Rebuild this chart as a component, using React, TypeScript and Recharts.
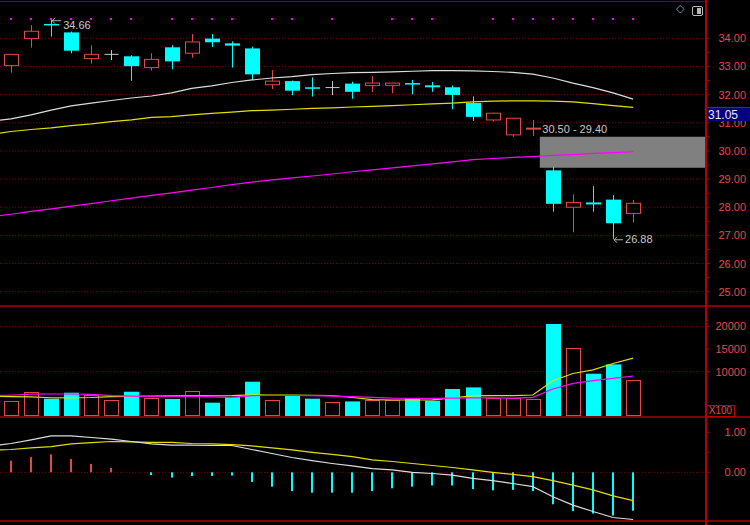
import React from "react";
import {
  ComposedChart,
  Bar,
  Line,
  XAxis,
  YAxis,
  CartesianGrid,
  ReferenceArea,
  ReferenceDot,
  Scatter,
} from "recharts";

// ---------- data ----------
const opens = [33.03, 33.99, 34.51, 34.21, 33.28, 33.43, 33.36, 32.96, 33.68, 33.47, 33.99, 33.82, 33.64, 32.35, 32.48, 32.26, 32.25, 32.39, 32.32, 32.33, 32.41, 32.33, 32.26, 31.7, 31.1, 30.57, 30.78, 29.31, 28.0, 28.17, 28.27, 27.78];
const highs = [33.43, 34.47, 34.66, 34.24, 33.75, 33.58, 33.4, 33.47, 33.75, 34.15, 34.15, 33.89, 33.7, 32.87, 32.5, 32.61, 32.48, 32.46, 32.66, 32.42, 32.52, 32.45, 32.32, 31.94, 31.36, 31.16, 31.1, 29.44, 28.46, 28.75, 28.43, 28.26];
const lows = [32.78, 33.67, 34.06, 33.47, 33.1, 33.23, 32.49, 32.86, 32.9, 33.31, 33.69, 32.96, 32.52, 32.2, 31.98, 31.93, 31.98, 31.85, 32.09, 32.05, 32.01, 32.1, 31.48, 31.06, 31.04, 30.5, 30.53, 27.84, 27.11, 27.84, 26.88, 27.46];
const closes = [33.43, 34.25, 34.49, 33.56, 33.43, 33.43, 33.01, 33.25, 33.18, 33.87, 33.86, 33.74, 32.72, 32.48, 32.14, 32.24, 32.25, 32.1, 32.41, 32.41, 32.37, 32.26, 31.99, 31.21, 31.34, 31.16, 30.81, 28.12, 28.17, 28.1, 27.43, 28.14];

// moving averages (first value = the day before the visible window)
const priceMaWhite = [31.06, 31.14, 31.28, 31.45, 31.6, 31.7, 31.79, 31.88, 31.95, 32.06, 32.22, 32.31, 32.43, 32.52, 32.59, 32.64, 32.71, 32.75, 32.78, 32.79, 32.81, 32.83, 32.85, 32.85, 32.84, 32.82, 32.79, 32.73, 32.59, 32.41, 32.25, 32.06, 31.84];
const priceMaYellow = [30.58, 30.69, 30.76, 30.82, 30.9, 30.96, 31.04, 31.1, 31.19, 31.22, 31.28, 31.33, 31.38, 31.43, 31.45, 31.48, 31.51, 31.53, 31.56, 31.58, 31.61, 31.64, 31.67, 31.7, 31.74, 31.77, 31.78, 31.78, 31.77, 31.74, 31.68, 31.61, 31.55];
const priceMaMagenta = [27.66, 27.75, 27.85, 27.94, 28.04, 28.13, 28.23, 28.32, 28.42, 28.51, 28.61, 28.7, 28.8, 28.89, 28.97, 29.04, 29.11, 29.18, 29.26, 29.33, 29.4, 29.47, 29.54, 29.61, 29.69, 29.73, 29.77, 29.8, 29.84, 29.87, 29.91, 29.94, 29.97];

const volumes = [3600, 5580, 4040, 5360, 4770, 3820, 5580, 4190, 3970, 5740, 3160, 4410, 7790, 3750, 4640, 4040, 3380, 3440, 3660, 3750, 4040, 3600, 6180, 6530, 4110, 4190, 3970, 20530, 15140, 9560, 11610, 8080];
const volMaYellow = [4550, 4500, 4450, 4250, 4200, 4300, 4500, 4550, 4600, 4650, 4700, 4650, 4700, 4900, 4850, 4850, 4800, 4750, 4300, 3850, 3750, 3750, 3800, 4200, 4650, 4700, 4700, 4850, 8000, 9600, 10400, 11800, 13000];
const volMaMagenta = [4770, 4800, 5050, 5080, 5080, 5000, 4700, 4600, 4550, 4550, 4600, 4450, 4350, 4700, 4750, 4750, 4700, 4600, 4500, 4350, 4150, 4100, 4100, 4150, 4200, 4200, 4150, 4330, 6180, 7420, 8010, 8520, 9050];

const macdHist = [0.29, 0.38, 0.45, 0.33, 0.21, 0.11, 0, -0.07, -0.13, -0.09, -0.09, -0.08, -0.24, -0.36, -0.47, -0.51, -0.51, -0.51, -0.47, -0.4, -0.36, -0.33, -0.33, -0.42, -0.45, -0.44, -0.47, -0.8, -0.97, -1.03, -1.08, -0.96];
const macdDif = [0.66, 0.72, 0.81, 0.91, 0.91, 0.87, 0.83, 0.77, 0.71, 0.68, 0.68, 0.67, 0.67, 0.57, 0.47, 0.37, 0.29, 0.22, 0.16, 0.09, 0.06, 0.0, -0.03, -0.07, -0.15, -0.21, -0.28, -0.36, -0.61, -0.82, -0.98, -1.13, -1.18];
const macdDea = [0.55, 0.57, 0.61, 0.64, 0.71, 0.74, 0.77, 0.76, 0.75, 0.75, 0.72, 0.71, 0.69, 0.66, 0.61, 0.56, 0.5, 0.45, 0.39, 0.31, 0.27, 0.22, 0.17, 0.12, 0.06, 0.0, -0.05, -0.11, -0.21, -0.32, -0.44, -0.59, -0.71];

const signalDays = [1, 2, 3, 4, 5, 6, 7, 9, 10, 11, 12, 14, 15, 17, 20, 21, 22, 25, 26, 27, 28, 29, 30, 31, 32];
const signalLevel = 34.7;

const priceTicks = [25, 26, 27, 28, 29, 30, 31, 32, 33, 34];
const priceMinorTicks = [25.5, 26.5, 27.5, 28.5, 29.5, 30.5, 31.5, 32.5, 33.5];
const volTicks = [10000, 15000, 20000];
const volGrid = [10000, 20000];
const macdTicks = [0, 1];
const macdMinorTicks = [0.5];

const zoneLow = 29.4;
const zoneHigh = 30.5;
const zoneStart = 26.35;
const lastPrice = "31.05";
const highMark = { day: 3, value: 34.66 };
const lowMark = { day: 31, value: 26.88 };

// ---------- scales / styles ----------
const xDomain: [number, number] = [-0.548, 34.63];
const priceDomain: [number, number] = [24.527, 35.325];
const volDomain: [number, number] = [0, 24500];
const macdDomain: [number, number] = [-1.2425, 1.3575];

const RED = "#e04848";
const CYAN = "#00ffff";
const GRAY = "#c8c8c8";
const GRID = "#800000";
const AXIS = "#b00000";
const LABEL = "#e04a4a";
const FONT = "'Liberation Sans', Arial, sans-serif";

const priceRows = priceMaWhite.map((w, k) => {
  const i = k - 1;
  const row: any = { i, maW: w, maY: priceMaYellow[k], maM: priceMaMagenta[k] };
  if (i >= 0) {
    row.o = opens[i];
    row.h = highs[i];
    row.l = lows[i];
    row.c = closes[i];
    row.range = [lows[i], highs[i]];
  }
  return row;
});

const volRows = volMaYellow.map((v, k) => {
  const i = k - 1;
  const row: any = { i, vmaY: v, vmaM: volMaMagenta[k] };
  if (i >= 0) {
    row.vol = volumes[i];
    row.up = closes[i] >= opens[i];
  }
  return row;
});

const macdRows = macdDif.map((d, k) => {
  const i = k - 1;
  const row: any = { i, dif: d, dea: macdDea[k] };
  if (i >= 0) row.hist = macdHist[i];
  return row;
});

const sigRows = signalDays.map((d) => ({ i: d - 1, sig: signalLevel }));

// ---------- shapes ----------
const CandleShape = (props: any) => {
  const { x, y, width, height } = props;
  const p = props.payload ?? props;
  if (p == null || p.h == null || x == null || !isFinite(y)) return null;
  const top = Math.min(y, y + height);
  const bot = Math.max(y, y + height);
  const span = p.h - p.l;
  const toY = (v: number) => top + ((p.h - v) / span) * (bot - top);
  const cx = Math.floor(x + width / 2) + 0.5;
  const yo = toY(p.o);
  const yc = toY(p.c);
  const bt = Math.min(yo, yc);
  const bb = Math.max(yo, yc);
  if (p.c === p.o) {
    return (
      <g>
        <line x1={cx} x2={cx} y1={top} y2={bot} stroke={GRAY} />
        <line x1={cx - 7} x2={cx + 7} y1={yo} y2={yo} stroke={GRAY} />
      </g>
    );
  }
  if (p.c > p.o) {
    return (
      <g>
        <line x1={cx} x2={cx} y1={top} y2={bt} stroke={RED} />
        <line x1={cx} x2={cx} y1={bb} y2={bot} stroke={RED} />
        <rect x={cx - 7} y={bt} width={14} height={Math.max(bb - bt, 1)} fill="#000" stroke={RED} />
      </g>
    );
  }
  return (
    <g>
      <line x1={cx} x2={cx} y1={top} y2={bot} stroke={CYAN} />
      <rect x={cx - 7.5} y={bt} width={15} height={Math.max(bb - bt, 1.5)} fill={CYAN} />
    </g>
  );
};

const VolShape = (props: any) => {
  const { x, y, width, height } = props;
  const p = props.payload ?? props;
  if (p == null || p.vol == null || x == null || !isFinite(y)) return null;
  const top = Math.min(y, y + height);
  const bot = Math.max(y, y + height);
  const cx = Math.floor(x + width / 2) + 0.5;
  if (p.up) {
    const t = Math.round(top) + 0.5;
    return <rect x={cx - 7} y={t} width={14} height={bot - t - 1.5} fill="#000" stroke={RED} />;
  }
  return <rect x={cx - 7.5} y={top} width={15} height={bot - top - 1} fill={CYAN} />;
};

const HistShape = (props: any) => {
  const { x, y, width, height } = props;
  const p = props.payload ?? props;
  if (p == null || p.hist == null || x == null || !isFinite(y)) return null;
  const top = Math.min(y, y + height);
  const bot = Math.max(y, y + height);
  const cx = Math.round(x + width / 2);
  return <rect x={cx - 1} y={top} width={2} height={bot - top} fill={p.hist >= 0 ? RED : CYAN} />;
};

const SigDot = (props: any) => {
  const { cx, cy } = props;
  if (cx == null || cy == null) return null;
  return <rect x={Math.round(cx) - 1} y={Math.round(cy) - 1} width={2} height={2} fill="#ff00ff" />;
};

const makeTick = (majors: number[], fmt: (v: number) => string) => (props: any) => {
  const { x, y, payload } = props;
  const v = payload.value;
  const major = majors.some((m) => Math.abs(m - v) < 1e-9);
  return (
    <g>
      <line x1={x - 4} x2={x} y1={y} y2={y} stroke={AXIS} />
      {major && (
        <text x={x + 36} y={y} dy={4} textAnchor="end" fill={LABEL} fontSize={11} fontFamily={FONT}>
          {fmt(v)}
        </text>
      )}
    </g>
  );
};

const PointNote = (props: any) => {
  const { viewBox, text, dy } = props;
  if (!viewBox) return null;
  const x = viewBox.x;
  const y = viewBox.y;
  return (
    <g>
      <line x1={x + 1} y1={y + 1} x2={x + 10} y2={y + 1} stroke="#b0b0b0" />
      <path d={`M${x + 4},${y - 2} L${x + 1},${y + 1} L${x + 4},${y + 4}`} stroke="#b0b0b0" fill="none" />
      <text x={x + 12} y={y + dy} fill="#c8c8c8" fontSize={11} fontFamily={FONT}>
        {text}
      </text>
    </g>
  );
};

const ZoneLabel = (props: any) => {
  const { viewBox } = props;
  if (!viewBox) return null;
  return (
    <text x={viewBox.x + 2.5} y={viewBox.y - 3.5} fill="#c8c8c8" fontSize={11} fontFamily={FONT}>
      {`${zoneHigh.toFixed(2)} - ${zoneLow.toFixed(2)}`}
    </text>
  );
};

const margin = { top: 1, right: 0, bottom: 1, left: 0 };

export default function App() {
  return (
    <div
      style={{
        position: "fixed",
        left: 0,
        top: 0,
        width: 750,
        height: 525,
        background: "#000",
        overflow: "hidden",
        fontFamily: FONT,
      }}
    >
      {/* price panel */}
      <div style={{ position: "absolute", left: 0, top: 0 }}>
        <ComposedChart width={750} height={306} data={priceRows} margin={margin}>
          <XAxis type="number" dataKey="i" domain={xDomain} allowDataOverflow hide />
          <YAxis
            orientation="right"
            width={44}
            domain={priceDomain}
            allowDataOverflow
            ticks={[...priceTicks, ...priceMinorTicks]}
            interval={0}
            axisLine={false}
            tickLine={false}
            tickSize={4}
            tickMargin={0}
            tick={makeTick(priceTicks, (v) => v.toFixed(2))}
          />
          <CartesianGrid vertical={false} horizontalValues={priceTicks} stroke={GRID} strokeDasharray="1 2" />
          <ReferenceArea
            x1={zoneStart}
            x2={xDomain[1]}
            y1={zoneLow}
            y2={zoneHigh}
            fill="#808080"
            fillOpacity={1}
            stroke="none"
            ifOverflow="visible"
            label={<ZoneLabel />}
          />
          <Line dataKey="maW" stroke="#dcdcdc" strokeWidth={1.2} dot={false} isAnimationActive={false} />
          <Line dataKey="maY" stroke="#e0e000" strokeWidth={1.2} dot={false} isAnimationActive={false} />
          <Line dataKey="maM" stroke="#ff00ff" strokeWidth={1.2} dot={false} isAnimationActive={false} />
          <Bar dataKey="range" barSize={15} shape={CandleShape} isAnimationActive={false} />
          <Scatter data={sigRows} dataKey="sig" shape={SigDot} isAnimationActive={false} />
          <ReferenceDot
            x={highMark.day - 1}
            y={highMark.value}
            r={0}
            fill="none"
            stroke="none"
            label={<PointNote text={highMark.value.toFixed(2)} dy={9} />}
          />
          <ReferenceDot
            x={lowMark.day - 1}
            y={lowMark.value}
            r={0}
            fill="none"
            stroke="none"
            label={<PointNote text={lowMark.value.toFixed(2)} dy={4.5} />}
          />
        </ComposedChart>
      </div>

      {/* volume panel */}
      <div style={{ position: "absolute", left: 0, top: 305 }}>
        <ComposedChart width={750} height={113} data={volRows} margin={margin}>
          <XAxis type="number" dataKey="i" domain={xDomain} allowDataOverflow hide />
          <YAxis
            orientation="right"
            width={44}
            domain={volDomain}
            allowDataOverflow
            ticks={volTicks}
            interval={0}
            axisLine={false}
            tickLine={false}
            tickSize={4}
            tickMargin={0}
            tick={makeTick(volTicks, (v) => String(v))}
          />
          <CartesianGrid vertical={false} horizontalValues={volGrid} stroke={GRID} strokeDasharray="1 2" />
          <Bar dataKey="vol" barSize={15} shape={VolShape} isAnimationActive={false} />
          <Line dataKey="vmaY" stroke="#e0e000" strokeWidth={1.2} dot={false} isAnimationActive={false} />
          <Line dataKey="vmaM" stroke="#ff00ff" strokeWidth={1.2} dot={false} isAnimationActive={false} />
        </ComposedChart>
      </div>

      {/* MACD panel */}
      <div style={{ position: "absolute", left: 0, top: 417 }}>
        <ComposedChart width={750} height={106} data={macdRows} margin={margin}>
          <XAxis type="number" dataKey="i" domain={xDomain} allowDataOverflow hide />
          <YAxis
            orientation="right"
            width={44}
            domain={macdDomain}
            allowDataOverflow
            ticks={[...macdTicks, ...macdMinorTicks]}
            interval={0}
            axisLine={false}
            tickLine={false}
            tickSize={4}
            tickMargin={0}
            tick={makeTick(macdTicks, (v) => v.toFixed(2))}
          />
          <CartesianGrid vertical={false} horizontalValues={[0]} stroke={GRID} strokeDasharray="1 2" />
          <Bar dataKey="hist" barSize={2} shape={HistShape} isAnimationActive={false} />
          <Line dataKey="dea" stroke="#e0e000" strokeWidth={1.2} dot={false} isAnimationActive={false} />
          <Line dataKey="dif" stroke="#dcdcdc" strokeWidth={1.2} dot={false} isAnimationActive={false} />
        </ComposedChart>
      </div>

      {/* panel frame lines */}
      <div style={{ position: "absolute", left: 0, top: 1, width: 706, height: 1, background: GRID }} />
      <div style={{ position: "absolute", left: 0, top: 305, width: 750, height: 2, background: GRID }} />
      <div style={{ position: "absolute", left: 0, top: 416, width: 750, height: 2, background: GRID }} />
      <div style={{ position: "absolute", left: 0, top: 520, width: 750, height: 2, background: GRID }} />
      <div style={{ position: "absolute", left: 705, top: 0, width: 2, height: 525, background: AXIS }} />

      {/* last price tag */}
      <div
        style={{
          position: "absolute",
          left: 707,
          top: 107,
          width: 43,
          height: 14,
          background: "#000080",
          borderTop: "1px solid #c00000",
          color: "#e8e8f0",
          fontSize: 12,
          lineHeight: "14px",
          paddingLeft: 1,
          boxSizing: "border-box",
        }}
      >
        {lastPrice}
      </div>

      {/* X100 unit box */}
      <div
        style={{
          position: "absolute",
          left: 706,
          top: 405,
          width: 29,
          height: 12,
          border: "1px solid #c00000",
          boxSizing: "border-box",
          color: LABEL,
          fontSize: 10,
          lineHeight: "10px",
          textAlign: "center",
        }}
      >
        X100
      </div>

      {/* toolbar icons */}
      <div style={{ position: "absolute", left: 676, top: 2, color: "#a0a0a0", fontSize: 11, fontFamily: "'DejaVu Sans', sans-serif" }}>
        ◇
      </div>
      <div
        style={{
          position: "absolute",
          left: 692,
          top: 6,
          width: 11,
          height: 10,
          border: "1px solid #b8b8b8",
          borderRadius: 2,
          boxSizing: "border-box",
        }}
      >
        <div style={{ position: "absolute", right: 1, top: 1, width: 4, height: 6, background: "#b8b8b8" }} />
      </div>
    </div>
  );
}
